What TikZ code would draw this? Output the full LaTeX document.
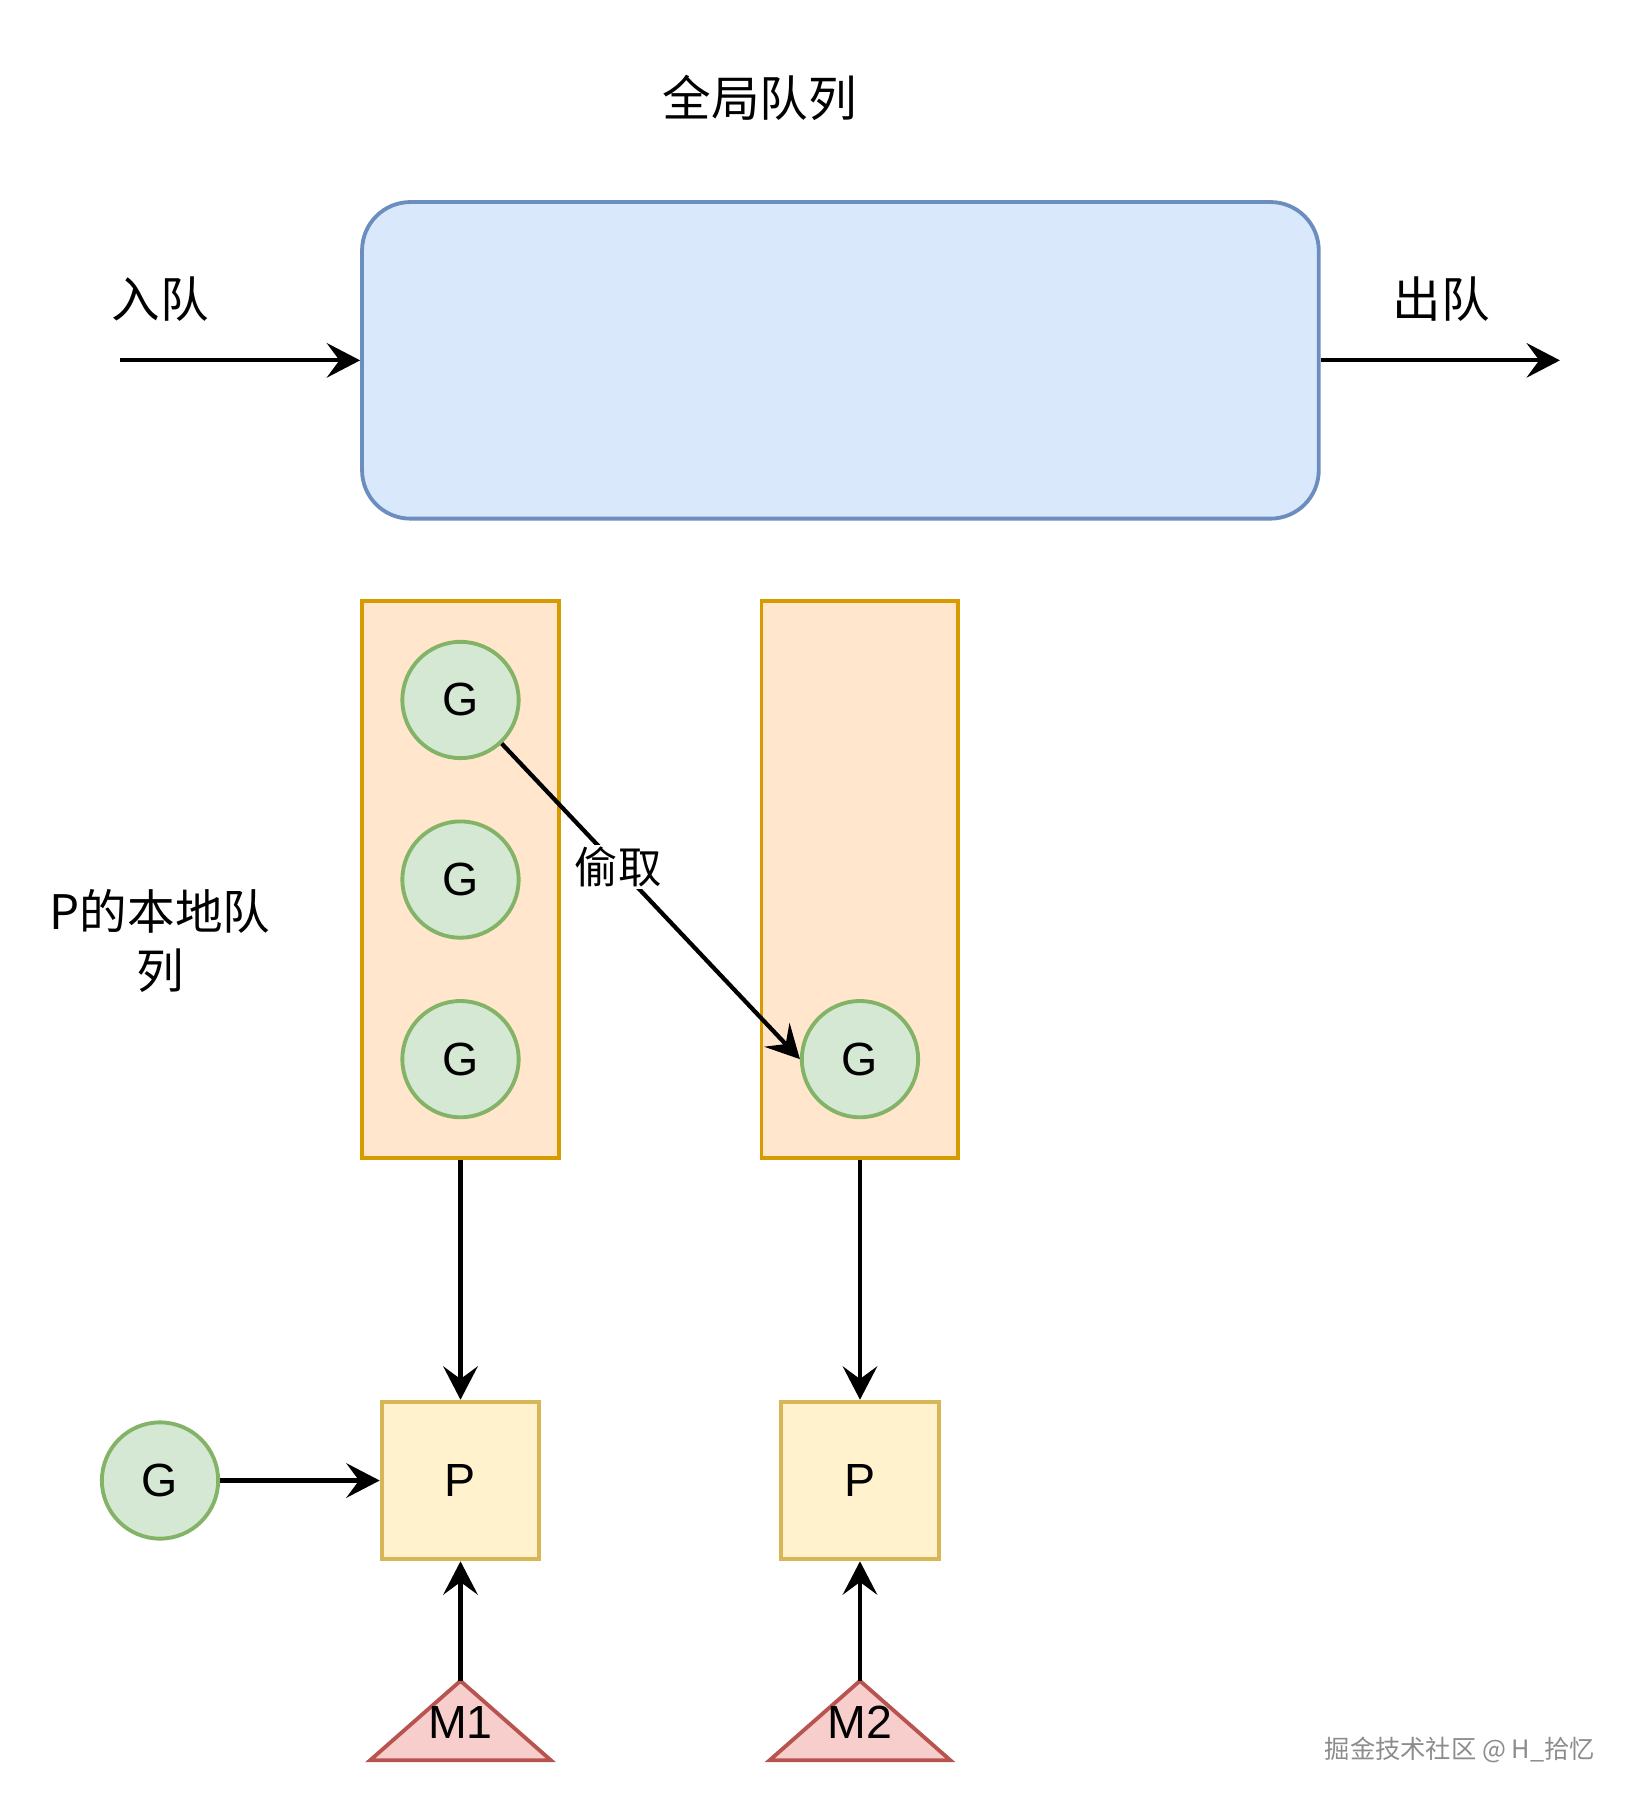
\documentclass[tikz,border=0pt]{standalone}
\usepackage{fontspec}
\setmainfont{Liberation Sans}
\newfontfamily\cjk{Noto Sans CJK SC}
\usetikzlibrary{arrows.meta}

\definecolor{qfill}{HTML}{DAE8FC}
\definecolor{qline}{HTML}{6C8EBF}
\definecolor{lfill}{HTML}{FFE6CC}
\definecolor{lline}{HTML}{D79B00}
\definecolor{gfill}{HTML}{D5E8D4}
\definecolor{gline}{HTML}{82B366}
\definecolor{pfill}{HTML}{FFF2CC}
\definecolor{pline}{HTML}{D6B656}
\definecolor{mfill}{HTML}{F8CECC}
\definecolor{mline}{HTML}{B85450}

\begin{document}
\begin{tikzpicture}[
    flow/.style={-{Stealth[length=5.8mm,width=6mm,inset=2.2mm]}, line width=2.1pt},
    gnode/.style={draw=gline, fill=gfill, circle, minimum size=2.02cm, inner sep=0pt, line width=1.9pt, font=\fontsize{23}{27}\selectfont},
    lqueue/.style={draw=lline, fill=lfill, minimum width=3.42cm, minimum height=9.68cm, line width=1.9pt},
    pnode/.style={draw=pline, fill=pfill, minimum size=2.74cm, line width=1.9pt, font=\fontsize{23}{27}\selectfont},
    mtri/.style={draw=mline, fill=mfill, line width=1.9pt, line join=miter},
    cjktext/.style={font=\cjk\fontsize{24}{28}\selectfont}
]
    \useasboundingbox (0,0) rectangle (28.42,-31.34);

    % global queue
    \node[cjktext] (title) at (13.2,-1.7) {全局队列};
    \node[draw=qline, fill=qfill, rounded corners=0.84cm, minimum width=16.62cm, minimum height=5.5cm, line width=1.9pt] (gq) at (14.6,-6.26) {};

    \node[cjktext] (enq) at (2.78,-5.2) {入队};
    \node[cjktext] (deq) at (25.04,-5.2) {出队};

    \coordinate (in)  at (2.08,-6.26);
    \coordinate (out) at (27.1,-6.26);

    % local queues of P
    \node[lqueue] (lq1) at (8.0,-15.28) {};
    \node[lqueue] (lq2) at (14.94,-15.28) {};

    \node[font=\cjk\fontsize{23.5}{29}\selectfont, align=center] (lqtext) at (2.78,-16.35) {P的本地队\\列};

    % goroutines
    \node[gnode] (g1) at (8.0,-12.16) {G};
    \node[gnode] (g2) at (8.0,-15.28) {G};
    \node[gnode] (g3) at (8.0,-18.4) {G};
    \node[gnode] (g4) at (14.94,-18.4) {G};
    \node[gnode] (g5) at (2.78,-25.72) {G};

    % processors
    \node[pnode] (p1) at (8.0,-25.72) {P};
    \node[pnode] (p2) at (14.94,-25.72) {P};

    % machines
    \coordinate (m1top) at (8.0,-29.2);
    \coordinate (m2top) at (14.94,-29.2);
    \draw[mtri] (m1top) -- ++(1.57,-1.38) -- ++(-3.14,0) -- cycle;
    \draw[mtri] (m2top) -- ++(1.57,-1.38) -- ++(-3.14,0) -- cycle;
    \node[font=\fontsize{23}{27}\selectfont] (m1) at (8.0,-29.92) {M1};
    \node[font=\fontsize{23}{27}\selectfont] (m2) at (14.94,-29.92) {M2};

    % watermark
    \node[font=\cjk\fontsize{12.5}{15}\selectfont, text=black!45] (mark) at (25.36,-30.4) {掘金技术社区 @ H\_拾忆};

    % Lines
    \draw[flow] (in) -- (gq.west);
    \draw[flow] (gq.east) -- (out);
    \draw[flow] (g1) -- node[pos=0.39, fill=white, inner sep=1pt, font=\cjk\fontsize{21.5}{25}\selectfont] (steal) {偷取} (g4.west);
    \draw[flow] (lq1.south) -- (p1.north);
    \draw[flow] (lq2.south) -- (p2.north);
    \draw[flow] (g5) -- (p1.west);
    \draw[flow] (m1top) -- (p1.south);
    \draw[flow] (m2top) -- (p2.south);
\end{tikzpicture}
\end{document}
